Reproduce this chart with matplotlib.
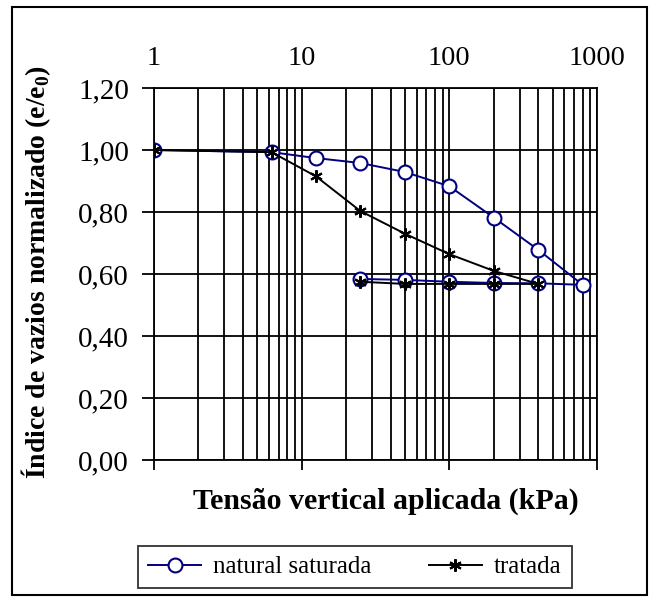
import matplotlib
matplotlib.use("Agg")
import matplotlib.pyplot as plt
from matplotlib.patches import Rectangle
from matplotlib.ticker import FixedLocator, FixedFormatter, LogLocator, NullFormatter

# Data
natural_x = [1, 6.25, 12.5, 25, 50, 100, 200, 400, 800, 400, 200, 100, 50, 25]
natural_y = [1.000, 0.993, 0.974, 0.958, 0.929, 0.883, 0.782, 0.678, 0.565,
             0.570, 0.571, 0.575, 0.581, 0.584]
tratada_x = [1, 6.25, 12.5, 25, 50, 100, 200, 400, 200, 100, 50, 25]
tratada_y = [1.000, 0.993, 0.915, 0.803, 0.730, 0.664, 0.610, 0.568,
             0.568, 0.568, 0.568, 0.575]
x_ticks = [1, 10, 100, 1000]
x_tick_labels = ["1", "10", "100", "1000"]
y_ticks = [0.0, 0.2, 0.4, 0.6, 0.8, 1.0, 1.2]
y_tick_labels = ["0,00", "0,20", "0,40", "0,60", "0,80", "1,00", "1,20"]

plt.rcParams['font.family'] = ['Liberation Serif', 'DejaVu Serif']

W, H = 651, 598
fig = plt.figure(figsize=(W / 100, H / 100), dpi=100)
ax = fig.add_axes([154 / W, 1 - 460 / H, (597 - 154) / W, (460 - 88) / H])

blue = "#000080"
ax.plot(natural_x, natural_y, color=blue, lw=1.4, marker='o', ms=10,
        mfc='white', mec=blue, mew=1.5, label="natural saturada", zorder=4)
ax.plot(tratada_x, tratada_y, color='black', lw=1.4, marker=(6, 2, 0), ms=9,
        mec='black', mew=1.5, label="tratada", zorder=5)

ax.set_xscale('log')
ax.set_xlim(1, 1000)
ax.set_ylim(0, 1.2)
ax.xaxis.set_major_locator(FixedLocator(x_ticks))
ax.xaxis.set_major_formatter(FixedFormatter(x_tick_labels))
ax.xaxis.set_minor_locator(LogLocator(base=10, subs=range(2, 10)))
ax.xaxis.set_minor_formatter(NullFormatter())
ax.set_yticks(y_ticks)
ax.set_yticklabels(y_tick_labels)

ax.tick_params(axis='x', which='major', labeltop=True, labelbottom=False,
               top=False, bottom=True, direction='out', length=7, width=1.3,
               labelsize=20.5, pad=5)
ax.tick_params(axis='x', which='minor', top=False, bottom=False)
ax.tick_params(axis='y', which='major', left=True, right=False, direction='out',
               length=9, width=1.3, labelsize=21, pad=9)

ax.grid(True, which='major', axis='both', color='black', lw=1.3)
ax.grid(True, which='minor', axis='x', color='black', lw=1.3)
ax.set_axisbelow(True)
for s in ax.spines.values():
    s.set_color('black')
    s.set_linewidth(1.3)

fig.text(36 / W, 1 - 272 / H, "Índice de vazios normalizado (e/e$_\\mathregular{0}$)",
         rotation=90, ha='center', va='center', fontsize=20, fontweight='bold')
fig.text(386 / W, 1 - 501 / H, "Tensão vertical aplicada (kPa)",
         ha='center', va='center', fontsize=21.5, fontweight='bold')

leg = fig.legend(loc='center', bbox_to_anchor=(355 / W, 1 - 567 / H), ncol=2,
                 frameon=True, fancybox=False, edgecolor='black', fontsize=18,
                 handlelength=2.1, handletextpad=0.5, columnspacing=2.3,
                 borderpad=0.4, borderaxespad=0)
leg.get_frame().set_linewidth(1.3)

fig.patches.append(Rectangle((12 / W, 1 - 595 / H), (647 - 12) / W, (595 - 7) / H,
                             transform=fig.transFigure, fill=False,
                             edgecolor='black', lw=1.5))

fig.savefig("out.png", dpi=100)
